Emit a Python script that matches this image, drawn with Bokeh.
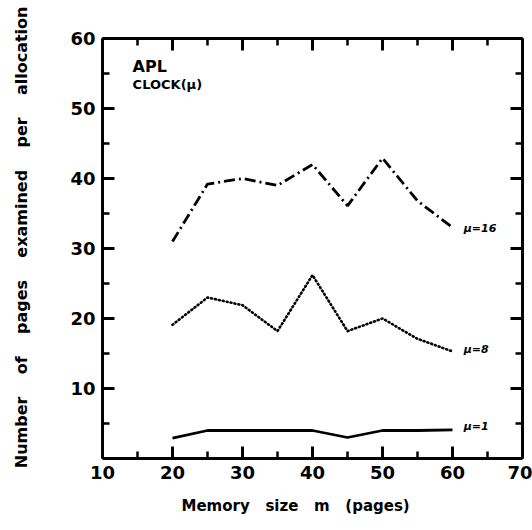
from bokeh.plotting import figure
from bokeh.models import LinearAxis, FixedTicker, Range1d, Title, Label, Grid
from bokeh.embed import file_html
from bokeh.resources import INLINE

memory_size = [20, 25, 30, 35, 40, 45, 50, 55, 60]
pages_mu16 = [31, 39.2, 40, 39, 42, 36.1, 42.9, 36.8, 33]
pages_mu8 = [19.1, 23, 21.9, 18.2, 26.2, 18.2, 20, 17.1, 15.3]
pages_mu1 = [2.9, 4, 4, 4, 4, 3, 4, 4, 4.1]
x_ticks = [10, 20, 30, 40, 50, 60, 70]
x_minor = [15, 25, 35, 45, 55, 65]
y_ticks = [10, 20, 30, 40, 50, 60]
y_minor = [5, 15, 25, 35, 45, 55]
series_labels = ["\u03bc=16", "\u03bc=8", "\u03bc=1"]
label_y = [32.0, 14.6, 3.6]

FONT = "DejaVu Sans"
NB = "\u00a0"

p = figure(width=532, height=530, output_backend="svg", toolbar_location=None,
           x_range=Range1d(10, 70), y_range=Range1d(0, 60),
           x_axis_location=None, y_axis_location=None,
           min_border_left=102, min_border_right=10,
           min_border_top=38, min_border_bottom=72)
p.outline_line_color = None
p.background_fill_color = "white"
p.border_fill_color = "white"
for r in list(p.center):
    if isinstance(r, Grid):
        r.visible = False


def make_axis(ticks, minor, show_labels):
    ax = LinearAxis(ticker=FixedTicker(ticks=ticks, minor_ticks=minor))
    ax.axis_line_width = 3
    ax.axis_line_color = "black"
    ax.major_tick_in = 12
    ax.major_tick_out = 0
    ax.minor_tick_in = 7
    ax.minor_tick_out = 0
    ax.major_tick_line_width = 3
    ax.minor_tick_line_width = 2.5
    ax.major_label_text_font = FONT
    ax.major_label_text_font_style = "bold"
    if show_labels:
        ax.major_label_text_color = "black"
        ax.major_label_text_font_size = "18px"
        ax.major_label_standoff = 7
    else:
        ax.major_label_text_color = None
        ax.major_label_text_font_size = "1px"
        ax.major_label_standoff = 0
    return ax


bottom = make_axis(x_ticks, x_minor, True)
left = make_axis(y_ticks, y_minor, True)
top = make_axis(x_ticks, x_minor, False)
right = make_axis(y_ticks, y_minor, False)

gap = NB * 3 + " "
left.axis_label = NB * 4 + gap.join(["Number", "of", "pages", "examined", "per", "allocation"])
left.axis_label_text_font = FONT
left.axis_label_text_font_style = "bold"
left.axis_label_text_font_size = "16px"
left.axis_label_text_color = "black"
left.axis_label_standoff = 36

p.add_layout(bottom, "below")
p.add_layout(left, "left")
p.add_layout(top, "above")
p.add_layout(right, "right")

xgap = NB * 2 + " "
xt = Title(text=xgap.join(["Memory", "size", "m", "(pages)"]), align="left", offset=79,
           text_font=FONT, text_font_size="15px", text_font_style="bold",
           text_color="black", standoff=26)
p.add_layout(xt, "below")

p.line(memory_size, pages_mu16, line_color="black", line_width=2.8, line_dash="11 4 2 4")
p.line(memory_size, pages_mu8, line_color="black", line_width=2.6, line_dash="1 3", line_cap="round")
p.line(memory_size, pages_mu1, line_color="black", line_width=2.8)

for txt, ly in zip(series_labels, label_y):
    p.add_layout(Label(x=61.6, y=ly, text=txt, text_font=FONT, text_font_size="11px",
                       text_font_style="bold italic", text_color="black"))

p.add_layout(Label(x=14.3, y=54.6, text="APL", text_font=FONT, text_font_size="16px",
                   text_font_style="bold", text_color="black"))
p.add_layout(Label(x=14.3, y=52.3, text="CLOCK(\u03bc)", text_font=FONT, text_font_size="13px",
                   text_font_style="bold", text_color="black"))

open("out.html", "w").write(file_html(p, INLINE))
